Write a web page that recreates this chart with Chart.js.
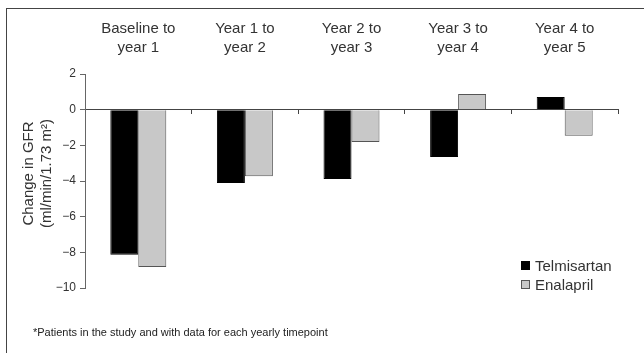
<!DOCTYPE html>
<html>
<head>
<meta charset="utf-8">
<script src="https://cdn.jsdelivr.net/npm/chart.js@4.4.1/dist/chart.umd.min.js"></script>
<style>
  html, body { margin: 0; padding: 0; background: #fff; }
  #wrap { position: relative; width: 644px; height: 353px; overflow: hidden; font-family: "Liberation Sans", Arial, Helvetica, sans-serif; }
  #c { position: absolute; left: 0; top: 0; }
  #frame { position: absolute; left: 6px; top: 8px; width: 700px; height: 400px; border-left: 1px solid #444; border-top: 1px solid #444; pointer-events: none; }
  #legend { position: absolute; left: 521px; top: 256px; font-size: 15px; color: #333; line-height: 19px; }
  #legend .item { display: flex; align-items: center; white-space: nowrap; }
  #legend .sw { display: inline-block; width: 9px; height: 9px; box-sizing: border-box; margin-right: 5px; }
  #note { position: absolute; left: 33px; top: 326px; font-size: 11px; color: #222; white-space: nowrap; }
</style>
</head>
<body>
<div id="wrap">
  <canvas id="c" width="644" height="353"></canvas>
  <div id="frame"></div>
  <div id="legend"></div>
  <div id="note">*Patients in the study and with data for each yearly timepoint</div>
</div>
<script>
const categories = [["Baseline to", "year 1"], ["Year 1 to", "year 2"], ["Year 2 to", "year 3"], ["Year 3 to", "year 4"], ["Year 4 to", "year 5"]];
const seriesNames = ["Telmisartan", "Enalapril"];
const telmisartan = [-8.13, -4.11, -3.89, -2.65, 0.71];
const enalapril = [-8.82, -3.74, -1.81, 0.88, -1.46];
const yTicks = [-10, -8, -6, -4, -2, 0, 2];
const yTitle = ["Change in GFR", "(ml/min/1.73 m\u00B2)"];

const fills = ["#000000", "#c8c8c8"];
const borders = ["#000000", "#555555"];
const FONT = "'Liberation Sans', Arial, Helvetica, sans-serif";

const datasets = [telmisartan, enalapril].map((vals, i) => ({
  label: seriesNames[i],
  data: vals,
  backgroundColor: fills[i],
  borderColor: borders[i],
  borderWidth: 1,
  xAxisID: 'x',
  yAxisID: 'y',
  categoryPercentage: 0.525,
  barPercentage: 1.0
}));

new Chart(document.getElementById('c'), {
  type: 'bar',
  data: { labels: categories, datasets },
  options: {
    responsive: false,
    animation: false,
    devicePixelRatio: 1,
    layout: { padding: { left: 0, right: 26, top: 0, bottom: 65 } },
    plugins: { legend: { display: false }, tooltip: { enabled: false } },
    scales: {
      x: {
        type: 'category',
        position: { y: 0 },
        offset: true,
        ticks: { display: false },
        grid: { display: true, offset: true, drawOnChartArea: false, drawTicks: true, tickLength: 4, color: '#444', lineWidth: 1 },
        border: { display: true, color: '#444', width: 1 }
      },
      x2: {
        type: 'category',
        position: 'top',
        offset: true,
        labels: categories,
        grid: { display: false, drawTicks: false },
        border: { display: false },
        ticks: { font: { family: FONT, size: 15, lineHeight: 19 / 15 }, color: '#333', padding: 17, maxRotation: 0, autoSkip: false },
        afterFit: s => { s.height = 74; }
      },
      y: {
        type: 'linear',
        position: 'left',
        min: -10,
        max: 2,
        afterBuildTicks: s => { s.ticks = yTicks.map(v => ({ value: v })); },
        ticks: {
          font: { family: FONT, size: 12 },
          color: '#333',
          padding: 4,
          callback: v => String(v).replace('-', '\u2212')
        },
        grid: { display: true, drawOnChartArea: false, drawTicks: true, tickLength: 5, color: '#666' },
        border: { display: true, color: '#666', width: 1 },
        title: {
          display: true,
          text: yTitle.map(t => '\u2002\u2002' + t),
          font: { family: FONT, size: 15, lineHeight: 18 / 15 },
          color: '#333',
          padding: { top: 20, bottom: 0 }
        },
        afterFit: s => { s.width = 85; }
      }
    }
  }
});

const legend = document.getElementById('legend');
seriesNames.forEach((name, i) => {
  const item = document.createElement('div');
  item.className = 'item';
  const sw = document.createElement('span');
  sw.className = 'sw';
  sw.style.background = fills[i];
  sw.style.border = '1px solid ' + borders[i];
  item.appendChild(sw);
  item.appendChild(document.createTextNode(name));
  legend.appendChild(item);
});
</script>
</body>
</html>
